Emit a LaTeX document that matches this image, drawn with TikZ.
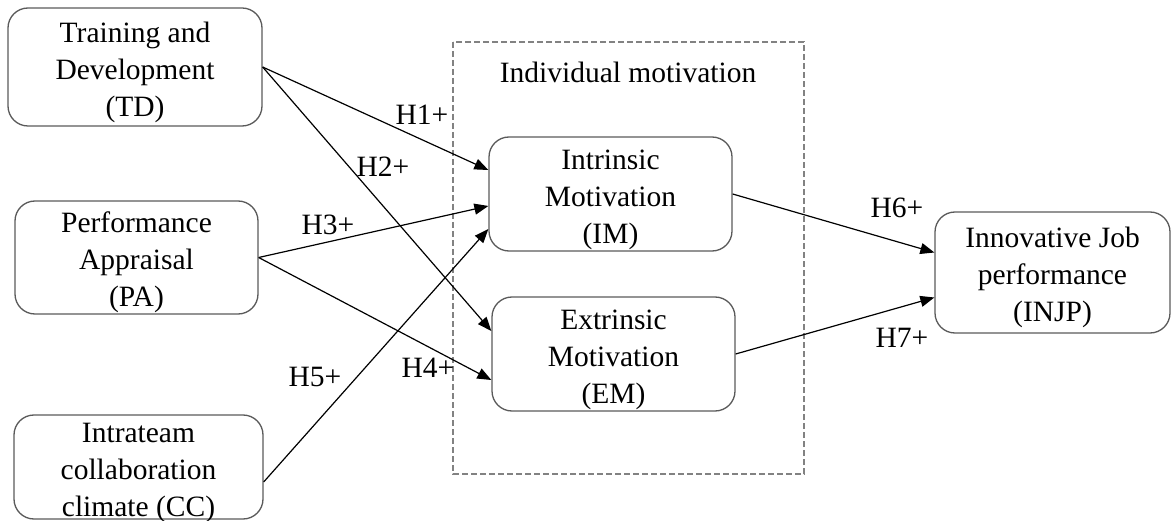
\documentclass[tikz,border=0pt]{standalone}
\usepackage{fontspec}
\setmainfont{Liberation Serif}
\usetikzlibrary{arrows.meta, positioning}
\definecolor{boxgray}{RGB}{90,90,90}
\definecolor{dashgray}{RGB}{130,130,130}
\newcommand{\firstline}{\rule{0pt}{31pt}}

\begin{document}
\begin{tikzpicture}[x=1pt, y=-1pt,
    construct/.style={draw=boxgray, line width=1.3pt, rounded corners=20pt, align=center, inner xsep=0pt, inner ysep=-6pt, font=\fontsize{29.5}{37}\selectfont},
    hypo/.style={-{Triangle[length=14pt,width=11pt]}, line width=1.2pt},
    hlabel/.style={font=\fontsize{29.5}{37}\selectfont}]
    \useasboundingbox (0,0) rectangle (1172,521);
    % mediator group
    \draw[dashgray, line width=1.3pt, dash pattern=on 6pt off 3pt] (453,42) rectangle (804,474);
    \node[hlabel] (group) at (628,72) {Individual motivation};
    % constructs
    \node[construct, minimum width=254pt, minimum height=118pt] (TD) at (135,67) {\firstline Training and\\Development\\(TD)};
    \node[construct, minimum width=243pt, minimum height=113pt] (PA) at (136.5,257.5) {\firstline Performance\\Appraisal\\(PA)};
    \node[construct, minimum width=249pt, minimum height=104pt] (CC) at (138.5,467) {\firstline Intrateam\\collaboration\\climate (CC)};
    \node[construct, minimum width=243pt, minimum height=114pt] (IM) at (610.5,194) {\firstline Intrinsic\\Motivation\\(IM)};
    \node[construct, minimum width=243pt, minimum height=114pt] (EM) at (613.5,354) {\firstline Extrinsic\\Motivation\\(EM)};
    \node[construct, minimum width=235pt, minimum height=121pt] (INJP) at (1052.5,272.5) {\firstline Innovative Job\\performance\\(INJP)};
    % hypotheses
    \draw[hypo] (TD.east) -- ([yshift=24pt]IM.west);
    \draw[hypo] (TD.east) -- ([yshift=23pt]EM.west);
    \draw[hypo] (PA.east) -- ([yshift=-12pt]IM.west);
    \draw[hypo] (PA.east) -- ([yshift=-26pt]EM.west);
    \draw[hypo] ([yshift=-15pt]CC.east) -- ([yshift=-35pt]IM.west);
    \draw[hypo] (IM.east) -- ([yshift=20pt]INJP.west);
    \draw[hypo] (EM.east) -- ([yshift=-25pt]INJP.west);
    \node[hlabel] (h1) at (422,115) {H1+};
    \node[hlabel] (h2) at (383,167) {H2+};
    \node[hlabel] (h3) at (328,225) {H3+};
    \node[hlabel] (h4) at (428,368) {H4+};
    \node[hlabel] (h5) at (315,377) {H5+};
    \node[hlabel] (h6) at (897,208) {H6+};
    \node[hlabel] (h7) at (902,338) {H7+};
\end{tikzpicture}
\end{document}
